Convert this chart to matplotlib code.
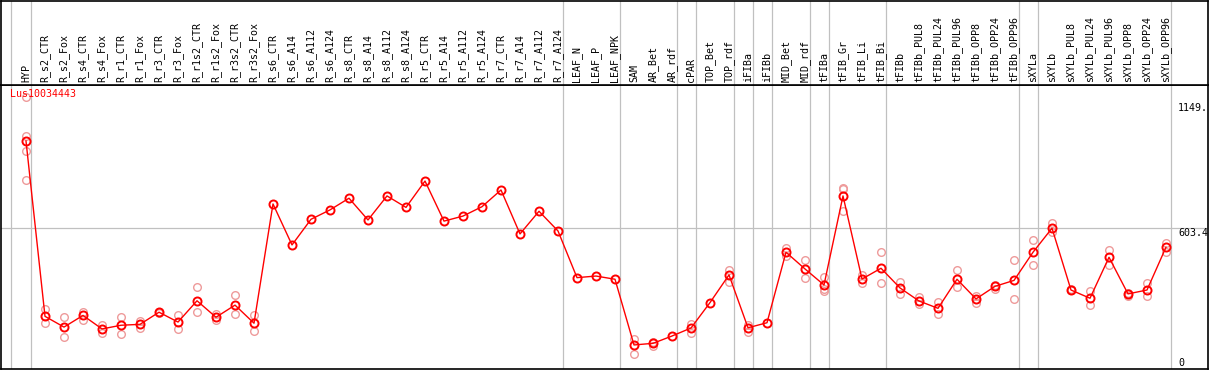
import numpy as np
import matplotlib
matplotlib.use("Agg")
import matplotlib.pyplot as plt

# sample labels, in plotting order
labels = ["HYP",
          "R_s2_CTR", "R_s2_Fox", "R_s4_CTR", "R_s4_Fox", "R_r1_CTR", "R_r1_Fox",
          "R_r3_CTR", "R_r3_Fox", "R_r1s2_CTR", "R_r1s2_Fox", "R_r3s2_CTR", "R_r3s2_Fox",
          "R_s6_CTR", "R_s6_A14", "R_s6_A112", "R_s6_A124",
          "R_s8_CTR", "R_s8_A14", "R_s8_A112", "R_s8_A124",
          "R_r5_CTR", "R_r5_A14", "R_r5_A112", "R_r5_A124",
          "R_r7_CTR", "R_r7_A14", "R_r7_A112", "R_r7_A124",
          "LEAF_N", "LEAF_P", "LEAF_NPK",
          "SAM", "AR_Bet", "AR_rdf", "cPAR", "TOP_Bet", "TOP_rdf",
          "iFIBa", "iFIBb", "MID_Bet", "MID_rdf", "tFIBa",
          "tFIB_Gr", "tFIB_Li", "tFIB_Bi",
          "tFIBb", "tFIBb_PUL8", "tFIBb_PUL24", "tFIBb_PUL96",
          "tFIBb_OPP8", "tFIBb_OPP24", "tFIBb_OPP96",
          "sXYLa", "sXYLb", "sXYLb_PUL8", "sXYLb_PUL24", "sXYLb_PUL96",
          "sXYLb_OPP8", "sXYLb_OPP24", "sXYLb_OPP96"]

# mean expression per sample
means = [983,
         217, 170, 221, 162, 178, 182, 235, 192, 285, 213, 266, 187,
         708, 529, 641, 682, 733, 638, 743, 693, 808, 633, 655, 696,
         769, 577, 676, 590,
         386, 393, 379,
         92, 99, 131, 166, 277, 398,
         167, 189, 497, 424, 354,
         743, 380, 427,
         341, 284, 252, 379, 293, 348, 374,
         497, 602, 332, 296, 475, 315, 332, 519]

# replicate values (empty where they sit on the mean)
reps = [[1175, 1005, 939, 813],
        [249, 187], [213, 125], [237, 201], [179, 145], [215, 138], [197, 166],
        [237, 230], [221, 160], [344, 235], [227, 201], [310, 227], [223, 152],
        [], [], [], [], [], [], [], [], [], [], [], [], [], [], [], [],
        [], [], [],
        [118, 51], [104, 89], [], [182, 145], [], [419, 368],
        [179, 150], [], [514, 481], [463, 383], [388, 335, 328],
        [779, 773, 677], [396, 361], [497, 361],
        [368, 313], [300, 270], [281, 226], [419, 344], [307, 274], [354, 336], [463, 291],
        [550, 441], [623, 587], [335, 330], [329, 266], [507, 441], [318, 307], [364, 306], [539, 497]]

# number of samples in each tissue group
group_sizes = [1, 28, 3, 3, 1, 2, 1, 1, 2, 1, 3, 7, 1, 7]

gene = "Lus10034443"
ymax_label = "1149."
ymid = 603.4

W, H = 1209, 370
fig = plt.figure(figsize=(W / 100, H / 100), dpi=100)
left = 1 / W
width = 1207 / W
ax = fig.add_axes([left, 1 / H, width, 284 / H])
axh = fig.add_axes([left, 285 / H, width, 84.5 / H])

x = np.arange(len(labels))
xlim = (-25 / 19, 1182 / 19)
px = 263 / 1149.0  # pixels per unit
ylim = (-3 / px, 1149 + 18 / px)

bounds = [-0.8] + list(np.cumsum(group_sizes) - 0.75)
for a in (ax, axh):
    a.set_xlim(*xlim)
    for b in bounds:
        a.axvline(b, color="#c0c0c0", lw=0.9, zorder=0)
    a.set_xticks([])
    a.set_yticks([])
    for s in a.spines.values():
        s.set_color("black")
        s.set_linewidth(1.2)

ax.set_ylim(*ylim)
axh.set_ylim(0, 1)
ax.axhline(ymid, color="#c0c0c0", lw=0.9, zorder=0)

mono = "DejaVu Sans Mono"
for i, lab in enumerate(labels):
    axh.text(i, 0.03, lab, rotation=90, ha="center", va="bottom",
             fontsize=7.2, family=mono)

for i, r in enumerate(reps):
    if r:
        ax.plot([i] * len(r), r, linestyle="none", marker="o", ms=5.5,
                mfc="none", mec="#ee9a9a", mew=1.0, zorder=2)

ax.plot(x, means, color="red", lw=1, zorder=3)
ax.plot(x, means, linestyle="none", marker="o", ms=5.8, mfc="none",
        mec="red", mew=1.4, zorder=4)

ax.text(-0.84, ylim[1] - 4 / px, gene, color="red", fontsize=7.2,
        family=mono, ha="left", va="top")

xr = (1178 - 26) / 19
ax.text(xr, 1149, ymax_label, fontsize=7.2, family=mono, ha="left", va="top")
ax.text(xr, ymid, "603.4", fontsize=7.2, family=mono, ha="left", va="top")
ax.text(xr, 0, "0", fontsize=7.2, family=mono, ha="left", va="baseline")

fig.savefig("out.png", dpi=100)
